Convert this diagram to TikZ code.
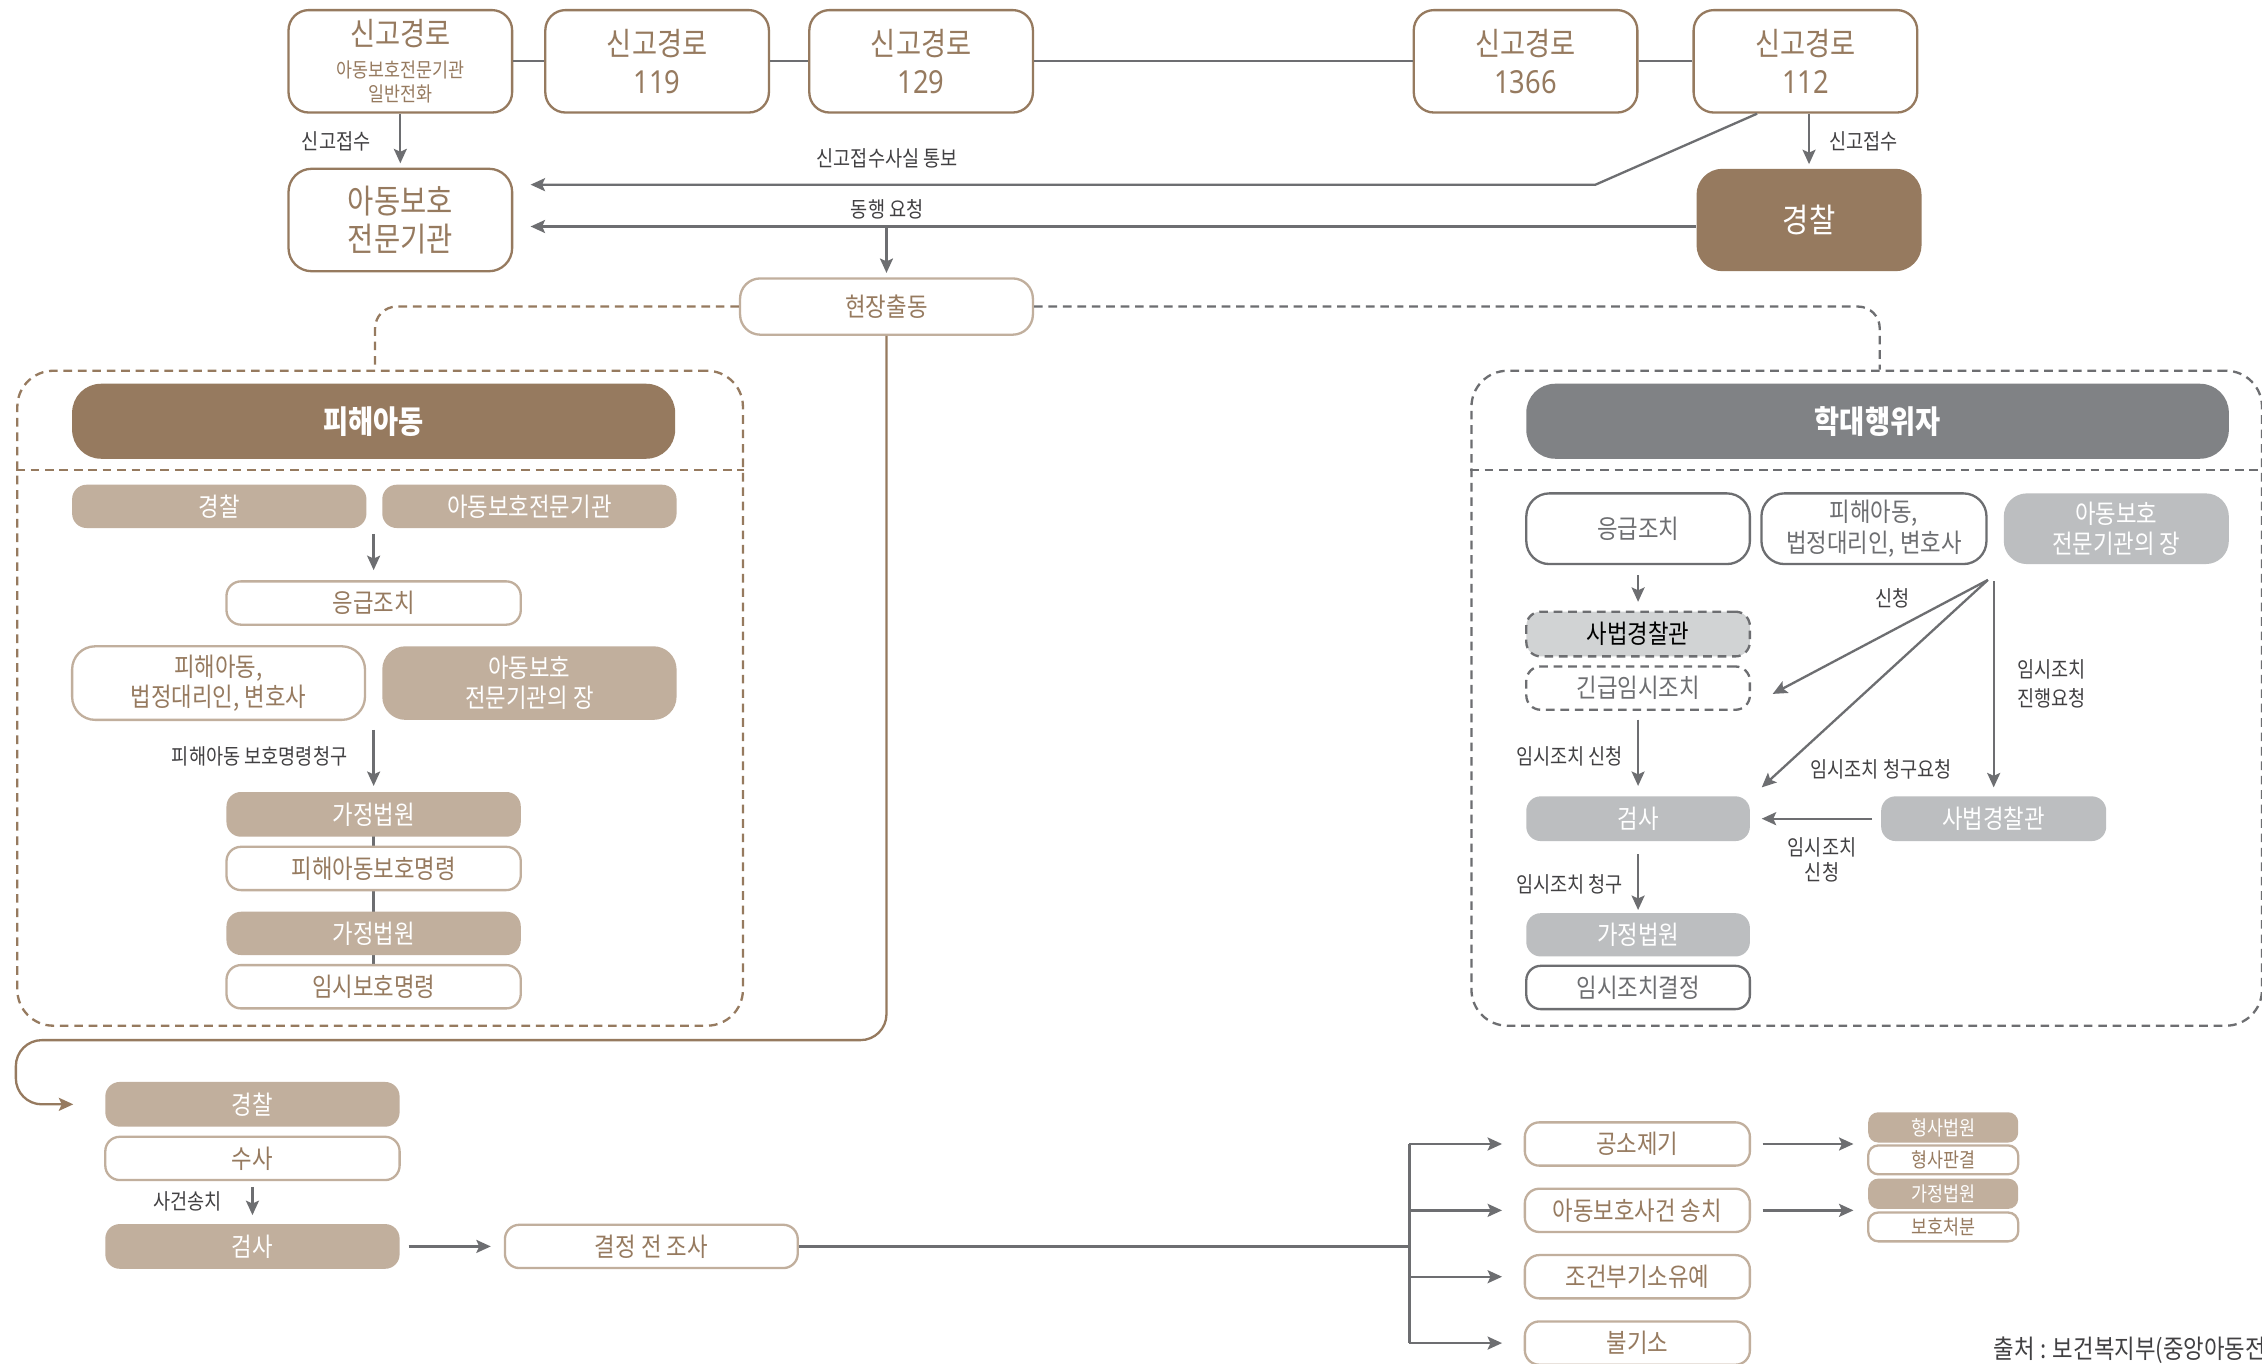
\documentclass[tikz,border=0pt]{standalone}
\usepackage{fontspec}
\setmainfont{Noto Sans CJK KR}[FakeStretch=0.86]
\newfontfamily\numfont{Noto Sans}[FakeStretch=0.86]
\usetikzlibrary{arrows.meta,calc}
\newcommand\fsz[2]{\fontsize{#1}{#2}\selectfont}
\definecolor{cbrown}{HTML}{967A5F}
\definecolor{clbrown}{HTML}{C1AF9D}
\definecolor{cgray}{HTML}{6D6E71}
\definecolor{chead}{HTML}{808285}
\definecolor{clgray}{HTML}{BCBEC0}
\definecolor{cdgray}{HTML}{D1D3D4}
\definecolor{clabel}{HTML}{414042}
\tikzset{
  wh/.style 2 args={minimum width=#1pt, minimum height=#2pt},
  topbox/.style={draw=cbrown, line width=1.6pt, fill=white, rounded corners=14pt, text=cbrown},
  darkfill/.style={fill=cbrown, text=white, rounded corners=20pt},
  lfill/.style={fill=clbrown, text=white, rounded corners=10pt, font=\fsz{18}{21}},
  lout/.style={draw=clbrown, line width=1.6pt, fill=white, text=cbrown, rounded corners=10pt, font=\fsz{18}{21}},
  gfill/.style={fill=clgray, text=white, rounded corners=10pt, font=\fsz{18}{21}},
  gout/.style={draw=cgray, line width=1.6pt, fill=white, text=cgray, rounded corners=10pt, font=\fsz{18}{21}},
  arr/.style={draw=cgray, line width=1.6pt, -{Stealth[length=10pt,width=9pt,inset=2pt]}},
  gline/.style={draw=cgray, line width=1.6pt},
  bline/.style={draw=cbrown, line width=1.6pt},
  lab/.style={text=clabel, font=\fsz{15}{18}},
  dashb/.style={draw=cbrown, line width=1.6pt, dash pattern=on 6pt off 4pt},
  dashg/.style={draw=cgray, line width=1.6pt, dash pattern=on 6pt off 4pt},
}
\begin{document}
\begin{tikzpicture}[x=1pt,y=-1pt, every node/.style={inner sep=0pt, align=center}]
\useasboundingbox (0,0) rectangle (1568,945.5);
\fill[white] (0,0) rectangle (1568,945.5);

% ---------- dashed group boxes ----------
\node[dashb, rounded corners=25pt, wh={503}{454}] (vbox) at (263.5,484) {};
\node[dashg, rounded corners=25pt, wh={548}{454}] (abox) at (1294,484) {};
\draw[dashb] (vbox.west |- 0,326) -- (vbox.east |- 0,326);
\draw[dashg] (abox.west |- 0,326) -- (abox.east |- 0,326);

% ---------- top row ----------
\node[topbox, wh={155}{71}, font=\fsz{14}{17}] (b1) at (277.5,42.5) {{\fsz{22}{22}신고경로}\\[5pt]아동보호전문기관\\일반전화};
\node[topbox, wh={155}{71}, font=\fsz{22}{26}] (b2) at (455.5,42.5) {신고경로\\{\numfont 119}};
\node[topbox, wh={155}{71}, font=\fsz{22}{26}] (b3) at (638.5,42.5) {신고경로\\{\numfont 129}};
\node[topbox, wh={155}{71}, font=\fsz{22}{26}] (b4) at (1057.5,42.5) {신고경로\\{\numfont 1366}};
\node[topbox, wh={155}{71}, font=\fsz{22}{26}] (b5) at (1251.5,42.5) {신고경로\\{\numfont 112}};
\draw[gline] (b1.east) -- (b2.west);
\draw[gline] (b2.east) -- (b3.west);
\draw[gline] (b3.east) -- (b4.west);
\draw[gline] (b4.east) -- (b5.west);

\node[topbox, rounded corners=16pt, wh={155}{71}, font=\fsz{23}{26}] (agency) at (277.5,152.5) {아동보호\\전문기관};
\node[darkfill, rounded corners=18pt, wh={156}{71}, font=\fsz{23}{26}] (police) at (1254,152.5) {경찰};

\draw[arr, shorten >=3pt] (b1.south) -- (agency.north);
\node[lab] (l1) at (233,98) {신고접수};
\draw[arr, shorten >=3pt] (police.north |- b5.south) -- (police.north);
\node[lab] (l2) at (1292,98) {신고접수};

\coordinate (d1) at (1106,128);
\draw[arr, shorten >=12pt] ([xshift=-33.5pt]b5.south) -- (d1) -- (agency.east |- d1);
\node[lab] (l3) at (615,110) {신고접수사실 통보};
\draw[arr, shorten >=12pt] (police.west |- 0,157) -- (agency.east |- 0,157);
\node[lab] (l4) at (615,145) {동행 요청};

\node[lout, wh={203}{39}, rounded corners=14pt] (field) at (614.5,212.5) {현장출동};
\draw[arr, shorten >=3pt] (field.north |- 0,157) -- (field.north);

\draw[dashb, rounded corners=15pt] (field.west) -| ($(vbox.north)+(-3.5,0)$);
\draw[dashg, rounded corners=15pt] (field.east) -| ($(abox.north)+(9,0)$);

% ---------- victim child box ----------
\node[darkfill, wh={418}{52}, font=\fsz{22}{25}\bfseries] (vh) at (259,292) {피해아동};
\node[lfill, wh={204}{30}] (lp) at (152,351) {경찰};
\node[lfill, wh={204}{30}] (la) at (367,351) {아동보호전문기관};
\node[lout, wh={204}{30}] (le) at (259,418) {응급조치};
\node[lout, wh={203}{51}, rounded corners=16pt] (lv) at (151.5,473.5) {피해아동,\\법정대리인, 변호사};
\node[lfill, wh={204}{51}, rounded corners=16pt] (lh) at (367,473.5) {아동보호\\전문기관의 장};
\draw[gline] (259,575) -- (259,675);
\node[lfill, wh={204}{31}] (lc1) at (259,564.5) {가정법원};
\node[lout, wh={204}{30}] (lo1) at (259,602) {피해아동보호명령};
\node[lfill, wh={204}{30}] (lc2) at (259,647) {가정법원};
\node[lout, wh={204}{30}] (lo2) at (259,684) {임시보호명령};
\coordinate (lk1) at (259,370);
\draw[arr, shorten >=7pt] (lk1) -- (le.north);
\coordinate (lk2) at (259,506);
\draw[arr, shorten >=4pt] (lk2) -- (lc1.north);
\node[lab] (l5) at (180,524) {피해아동 보호명령청구};

% ---------- abuser box ----------
\node[fill=chead, text=white, rounded corners=20pt, wh={487}{52}, font=\fsz{22}{25}\bfseries] (ah) at (1301.5,292) {학대행위자};
\node[gout, rounded corners=16pt, wh={155}{49}] (re) at (1135.5,366.5) {응급조치};
\node[gout, rounded corners=16pt, wh={156}{49}] (rv) at (1299,366.5) {피해아동,\\법정대리인, 변호사};
\node[gfill, rounded corners=16pt, wh={156}{49}] (rh) at (1467,366.5) {아동보호\\전문기관의 장};
\node[draw=cgray, line width=1.6pt, dash pattern=on 6pt off 4pt, fill=cdgray, text=black, rounded corners=10pt, font=\fsz{18}{21}, wh={155}{31}] (rj) at (1135.5,439.5) {사법경찰관};
\node[draw=cgray, line width=1.6pt, dash pattern=on 6pt off 4pt, fill=white, text=cgray, rounded corners=10pt, font=\fsz{18}{21}, wh={155}{30}] (rt) at (1135.5,477) {긴급임시조치};
\node[gfill, wh={155}{31}] (rp) at (1135.5,567.5) {검사};
\node[gfill, wh={155}{30}] (rc) at (1135.5,648) {가정법원};
\node[gout, wh={155}{30}] (rd) at (1135.5,684.5) {임시조치결정};
\node[gfill, wh={156}{31}] (rj2) at (1382,567.5) {사법경찰관};

\draw[arr, shorten <=7pt, shorten >=6pt] (re.south) -- (rj.north);
\draw[arr, shorten <=6pt, shorten >=7pt] (rt.south) -- (rp.north);
\node[lab] (l6) at (1088,524) {임시조치 신청};
\draw[arr, shorten <=9pt, shorten >=2pt] (rp.south) -- (rc.north);
\node[lab] (l7) at (1088,613) {임시조치 청구};
\draw[arr, shorten <=6pt, shorten >=8pt] (rj2.west) -- (rp.east);
\node[lab, font=\fsz{15}{17}] (l8) at (1263,596) {임시조치\\신청};

\coordinate (ro) at (1378,402);
\draw[arr] (ro) -- ([xshift=15pt,yshift=-4pt]rt.east);
\node[lab] (l9) at (1312,415) {신청};
\draw[arr] (ro) -- ([xshift=8pt,yshift=6pt]rp.north east);
\node[lab] (l10) at (1304,533) {임시조치 청구요청};
\coordinate (ro2) at (1382,403);
\draw[arr, shorten >=6pt] (ro2) -- (rj2.north);
\node[lab, font=\fsz{15}{20}] (l11) at (1422,474) {임시조치\\진행요청};

% ---------- bottom flow ----------
\node[lfill, wh={204}{31}] (bp) at (175,765.5) {경찰};
\node[lout, wh={204}{30}] (bi) at (175,803) {수사};
\node[lfill, wh={204}{31}] (bs) at (175,864) {검사};
\node[lout, wh={203}{30}] (bq) at (451.5,864) {결정 전 조사};
\draw[bline, rounded corners=18pt, -{Stealth[length=10pt,width=9pt,inset=2pt]}] (field.south) |- (11,721) |- ([xshift=-22pt]bp.west);
\draw[arr, shorten <=4pt, shorten >=6pt] (bi.south) -- (bs.north);
\node[lab] (l12) at (130,833) {사건송치};
\draw[arr, shorten <=6pt, shorten >=9pt] (bs.east) -- (bq.west);

\node[lout, wh={156}{30}] (k1) at (1135,793) {공소제기};
\node[lout, wh={156}{30}] (k2) at (1135,839) {아동보호사건 송치};
\node[lout, wh={156}{30}] (k3) at (1135,885) {조건부기소유예};
\node[lout, wh={156}{30}] (k4) at (1135,931) {불기소};
\coordinate (kj) at (977,864);
\draw[gline] (bq.east) -- (kj);
\draw[gline] (977,793) -- (977,931);
\draw[arr, shorten >=15pt] (977,793) -- (k1.west);
\draw[arr, shorten >=15pt] (977,839) -- (k2.west);
\draw[arr, shorten >=15pt] (977,885) -- (k3.west);
\draw[arr, shorten >=15pt] (977,931) -- (k4.west);

\node[lfill, rounded corners=7pt, wh={104}{21}, font=\fsz{14}{16}] (c1) at (1347,781.5) {형사법원};
\node[lout, rounded corners=7pt, wh={104}{20}, font=\fsz{14}{16}] (c2) at (1347,804) {형사판결};
\node[lfill, rounded corners=7pt, wh={104}{21}, font=\fsz{14}{16}] (c3) at (1347,827.5) {가정법원};
\node[lout, rounded corners=7pt, wh={104}{20}, font=\fsz{14}{16}] (c4) at (1347,850.5) {보호처분};
\draw[arr, shorten <=8pt, shorten >=10pt] (k1.east) -- (k1.east -| c1.west);
\draw[arr, shorten <=8pt, shorten >=10pt] (k2.east) -- (k2.east -| c3.west);

\node[text=clabel, font=\fsz{18}{20}, anchor=west] (src) at (1382,936) {출처 : 보건복지부(중앙아동전};
\end{tikzpicture}
\end{document}
